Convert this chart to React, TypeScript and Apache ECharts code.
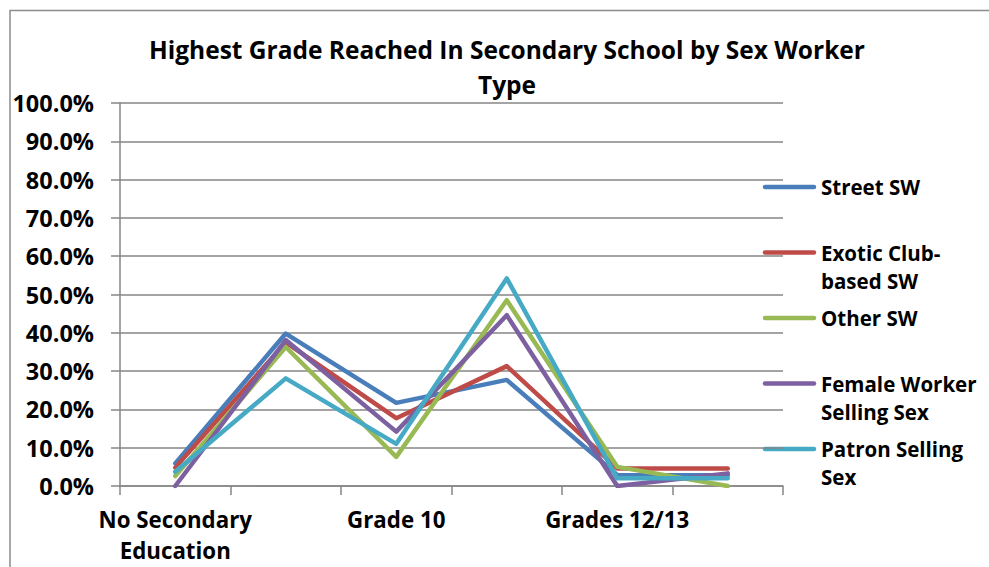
import React, { useEffect, useRef } from "react";
import * as echarts from "echarts";

const categories = ["No Secondary\nEducation", "Grade 9", "Grade 10", "Grade 11", "Grades 12/13", "Other"];
const shownLabels = [true, false, true, false, true, false];

const seriesNames = ["Street SW", "Exotic Club-based SW", "Other SW", "Female Worker Selling Sex", "Patron Selling Sex"];
const legendLabels = ["Street SW", "Exotic Club-\nbased SW", "Other SW", "Female Worker\nSelling Sex", "Patron Selling\nSex"];
const colors = ["#4A7EBB", "#BE4B48", "#98B954", "#7D60A0", "#46AAC5"];

const streetSW = [0.059, 0.398, 0.217, 0.277, 0.029, 0.028];
const exoticSW = [0.048, 0.375, 0.177, 0.313, 0.046, 0.046];
const otherSW = [0.026, 0.363, 0.076, 0.485, 0.05, 0.0];
const femaleWorker = [0.0, 0.381, 0.142, 0.446, 0.0, 0.033];
const patronSelling = [0.037, 0.281, 0.11, 0.542, 0.02, 0.02];

const seriesValues = [streetSW, exoticSW, otherSW, femaleWorker, patronSelling];

const FONT = "'Open Sans', 'Noto Sans', sans-serif";

export default function App() {
  const ref = useRef<HTMLDivElement>(null);
  useEffect(() => {
    if (!ref.current) return;
    const chart = echarts.init(ref.current, null, { renderer: "svg" });
    const legendGraphics: any[] = [];
    seriesNames.forEach((name, i) => {
      const y = 187 + i * 65.5;
      legendGraphics.push({
        type: "line",
        shape: { x1: 765, y1: y, x2: 814, y2: y },
        style: { stroke: colors[i], lineWidth: 4.5, lineCap: "round" },
      });
      legendGraphics.push({
        type: "text",
        x: 821,
        y: y - 14,
        style: {
          text: legendLabels[i],
          font: `bold 20.5px ${FONT}`,
          fill: "#000",
          lineHeight: 28,
          textVerticalAlign: "top",
          verticalAlign: "top",
        },
      });
    });
    chart.setOption({
      animation: false,
      backgroundColor: "#fff",
      title: {
        text: "Highest Grade Reached In Secondary School by Sex Worker\nType",
        left: 502,
        top: 27,
        textAlign: "center",
        textStyle: { fontFamily: FONT, fontWeight: "bold", fontSize: 24.5, lineHeight: 35, color: "#000" },
      },
      grid: { left: 120, right: 206, top: 103, bottom: 81, containLabel: false },
      xAxis: {
        type: "category",
        data: categories,
        boundaryGap: true,
        axisLine: { lineStyle: { color: "#868686", width: 1.5 } },
        axisTick: { show: true, interval: 0, length: 9, lineStyle: { color: "#868686", width: 1.5 } },
        axisLabel: {
          interval: 0,
          formatter: (v: string, idx: number) => (shownLabels[idx] ? v : ""),
          fontFamily: FONT,
          fontWeight: "bold",
          fontSize: 22.3,
          lineHeight: 31,
          color: "#000",
          margin: 18,
        },
        splitLine: { show: false },
      },
      yAxis: {
        type: "value",
        min: 0,
        max: 1,
        interval: 0.1,
        axisLine: { show: true, lineStyle: { color: "#868686", width: 1.5 } },
        axisTick: { show: true, length: 9, lineStyle: { color: "#868686", width: 1.5 } },
        axisLabel: {
          formatter: (v: number) => (v * 100).toFixed(1) + "%",
          fontFamily: FONT,
          fontWeight: "bold",
          fontSize: 23.5,
          color: "#000",
          margin: 26,
        },
        splitLine: { show: true, lineStyle: { color: "#868686", width: 1.5 } },
      },
      series: seriesNames.map((name, i) => ({
        name,
        type: "line",
        data: seriesValues[i],
        symbol: "none",
        lineStyle: { color: colors[i], width: 4.5, cap: "round", join: "round" },
        itemStyle: { color: colors[i] },
      })),
      graphic: [
        {
          type: "polyline",
          shape: { points: [[10, 600], [10, 10.5], [1000, 10.5]] },
          style: { stroke: "#8c8c8c", lineWidth: 1.5, fill: "none" },
          silent: true,
        },
        ...legendGraphics,
      ],
    });
    return () => chart.dispose();
  }, []);
  return (
    <div
      ref={ref}
      style={{ position: "fixed", left: 0, top: 0, width: 989, height: 567, background: "#fff" }}
    />
  );
}
